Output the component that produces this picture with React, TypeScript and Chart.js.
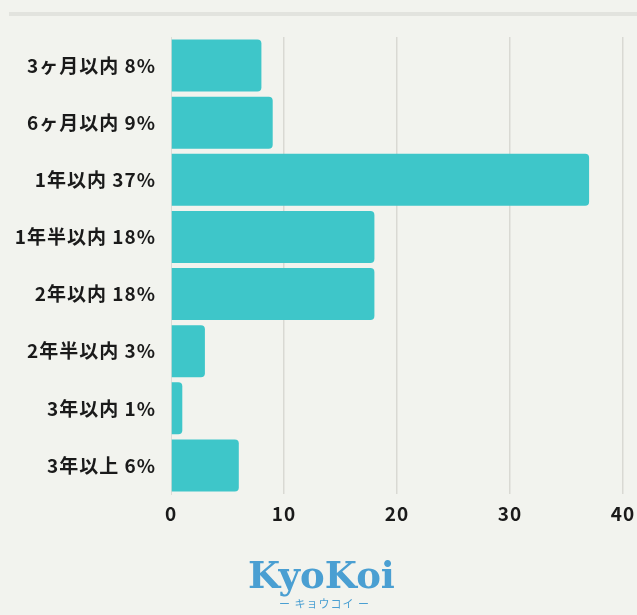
import React, { useEffect, useRef } from "react";
import { Chart, registerables } from "chart.js";

Chart.register(...registerables);

const categories = [
  "3ヶ月以内 8%",
  "6ヶ月以内 9%",
  "1年以内 37%",
  "1年半以内 18%",
  "2年以内 18%",
  "2年半以内 3%",
  "3年以内 1%",
  "3年以上 6%",
];
const values = [8, 9, 37, 18, 18, 3, 1, 6];
const xTicks = [0, 10, 20, 30, 40];

const BG = "#f2f3ee";
const BAR = "#3ec6c9";
const FONT = "'Noto Sans CJK JP', 'Noto Sans', sans-serif";

const spacingPlugin = {
  id: "letterSpacing",
  beforeDraw(chart: any) {
    chart.ctx.letterSpacing = "1px";
  },
};

export default function App() {
  const ref = useRef<HTMLCanvasElement | null>(null);

  useEffect(() => {
    document.body.style.margin = "0";
    document.body.style.background = BG;
    const canvas = ref.current;
    if (!canvas) return;
    const chart = new Chart(canvas, {
      type: "bar",
      data: {
        labels: categories,
        datasets: [
          {
            data: values,
            backgroundColor: BAR,
            borderWidth: 0,
            borderRadius: 4,
            borderSkipped: "start",
            barPercentage: 0.91,
            categoryPercentage: 1,
          },
        ],
      },
      plugins: [spacingPlugin],
      options: {
        indexAxis: "y",
        animation: false,
        responsive: false,
        maintainAspectRatio: false,
        layout: { padding: { top: 37, left: 0, right: 14, bottom: 0 } },
        plugins: {
          legend: { display: false },
          tooltip: { enabled: false },
        },
        scales: {
          x: {
            min: 0,
            max: 40,
            afterBuildTicks: (s: any) => {
              s.ticks = xTicks.map((v) => ({ value: v }));
            },
            afterFit: (s: any) => {
              s.height = 66;
              s.paddingLeft = 0;
              s.paddingRight = 0;
            },
            border: { display: false },
            grid: {
              color: (ctx: any) => (ctx.tick && ctx.tick.value === 0 ? "rgba(0,0,0,0)" : "#d9d9d3"),
              lineWidth: 1.5,
              drawTicks: false,
            },
            ticks: {
              padding: 8,
              color: "#1a1a1a",
              font: { family: FONT, size: 19, weight: "bold" },
            },
          },
          y: {
            afterFit: (s: any) => {
              s.width = 171;
            },
            border: { display: true, color: "#dcdcd6", width: 1 },
            grid: { display: false, drawTicks: false },
            ticks: {
              padding: 15,
              color: "#1a1a1a",
              font: { family: FONT, size: 19, weight: "bold" },
            },
          },
        },
      },
    });
    return () => chart.destroy();
  }, []);

  return (
    <div style={{ position: "relative", width: 637, height: 615, background: BG, overflow: "hidden" }}>
      <div
        style={{
          position: "absolute",
          left: 9,
          top: 12,
          width: 628,
          height: 4,
          background: "#e2e3de",
        }}
      />
      <canvas ref={ref} width={637} height={560} style={{ position: "absolute", left: 0, top: 0, width: 637, height: 560 }} />
      <div
        style={{
          position: "absolute",
          left: 3,
          width: 637,
          top: 553,
          textAlign: "center",
          color: "#4a9fd2",
          fontFamily: "'DejaVu Serif', serif",
          fontWeight: "bold",
          fontSize: 37,
          lineHeight: "44px",
        }}
      >
        KyoKoi
      </div>
      <div
        style={{
          position: "absolute",
          left: 6,
          width: 637,
          top: 596,
          textAlign: "center",
          color: "#4a9fd2",
          fontFamily: FONT,
          fontSize: 11,
          letterSpacing: "1px",
          lineHeight: "14px",
        }}
      >
        ー キョウコイ ー
      </div>
    </div>
  );
}
